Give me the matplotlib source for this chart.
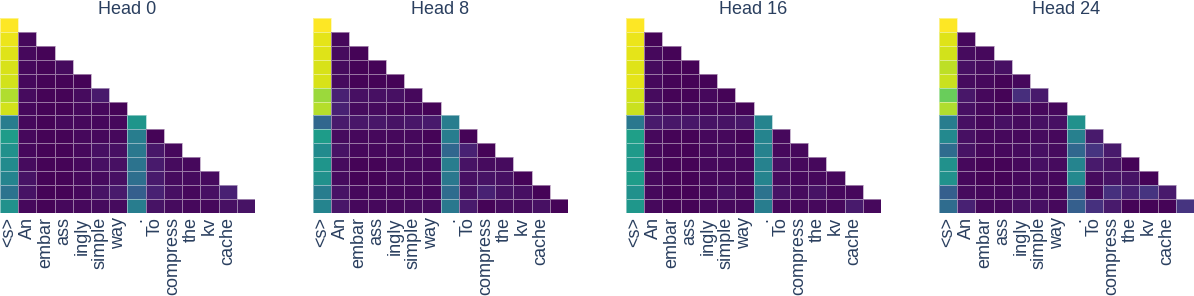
import numpy as np
import matplotlib
matplotlib.use('Agg')
import matplotlib.pyplot as plt

# tokens (last column has no label)
tokens = ['<s>', 'An', 'embar', 'ass', 'ingly', 'simple', 'way', '.',
	'To', 'compress', 'the', 'kv', 'cache', '']

titles = ['Head 0', 'Head 8', 'Head 16', 'Head 24']

# lower triangular attention weights, one row per query token
head0 = [
	[1.00],
	[0.97, 0.02],
	[0.95, 0.02, 0.01],
	[0.94, 0.02, 0.01, 0.03],
	[0.93, 0.02, 0.01, 0.01, 0.01],
	[0.88, 0.03, 0.01, 0.01, 0.03, 0.07],
	[0.93, 0.02, 0.01, 0.01, 0.02, 0.02, 0.01],
	[0.42, 0.02, 0.01, 0.02, 0.02, 0.02, 0.02, 0.52],
	[0.55, 0.02, 0.01, 0.01, 0.02, 0.02, 0.02, 0.42, 0.01],
	[0.50, 0.02, 0.01, 0.01, 0.02, 0.04, 0.04, 0.40, 0.06, 0.02],
	[0.48, 0.03, 0.01, 0.01, 0.02, 0.04, 0.04, 0.38, 0.07, 0.03, 0.02],
	[0.45, 0.05, 0.01, 0.01, 0.02, 0.03, 0.04, 0.36, 0.07, 0.03, 0.03, 0.03],
	[0.38, 0.05, 0.01, 0.01, 0.02, 0.05, 0.07, 0.30, 0.09, 0.04, 0.02, 0.04, 0.09],
	[0.50, 0.02, 0.01, 0.02, 0.02, 0.03, 0.03, 0.42, 0.05, 0.03, 0.02, 0.02, 0.04, 0.05],
]

head8 = [
	[1.00],
	[0.96, 0.02],
	[0.95, 0.03, 0.01],
	[0.94, 0.03, 0.01, 0.01],
	[0.94, 0.03, 0.01, 0.01, 0.01],
	[0.85, 0.09, 0.04, 0.04, 0.04, 0.02],
	[0.89, 0.09, 0.03, 0.03, 0.02, 0.02, 0.01],
	[0.33, 0.07, 0.06, 0.06, 0.05, 0.06, 0.07, 0.42],
	[0.55, 0.03, 0.02, 0.02, 0.02, 0.02, 0.01, 0.42, 0.01],
	[0.48, 0.05, 0.02, 0.02, 0.02, 0.03, 0.02, 0.33, 0.09, 0.01],
	[0.52, 0.03, 0.01, 0.01, 0.02, 0.02, 0.02, 0.42, 0.05, 0.03, 0.03],
	[0.50, 0.03, 0.01, 0.01, 0.02, 0.02, 0.02, 0.40, 0.04, 0.05, 0.04, 0.01],
	[0.42, 0.05, 0.02, 0.02, 0.02, 0.02, 0.02, 0.35, 0.05, 0.09, 0.05, 0.04, 0.01],
	[0.45, 0.06, 0.02, 0.02, 0.02, 0.03, 0.03, 0.40, 0.07, 0.01, 0.03, 0.03, 0.04, 0.01],
]

head16 = [
	[1.00],
	[0.97, 0.01],
	[0.96, 0.02, 0.01],
	[0.95, 0.03, 0.01, 0.01],
	[0.96, 0.02, 0.01, 0.01, 0.01],
	[0.93, 0.03, 0.01, 0.01, 0.02, 0.01],
	[0.92, 0.04, 0.02, 0.02, 0.02, 0.02, 0.01],
	[0.40, 0.07, 0.06, 0.06, 0.05, 0.05, 0.06, 0.45],
	[0.56, 0.02, 0.01, 0.01, 0.02, 0.02, 0.01, 0.45, 0.02],
	[0.54, 0.02, 0.01, 0.01, 0.02, 0.03, 0.02, 0.44, 0.02, 0.02],
	[0.53, 0.02, 0.01, 0.01, 0.02, 0.02, 0.02, 0.44, 0.04, 0.02, 0.02],
	[0.55, 0.02, 0.01, 0.01, 0.02, 0.02, 0.02, 0.45, 0.03, 0.02, 0.02, 0.02],
	[0.50, 0.02, 0.01, 0.01, 0.02, 0.04, 0.02, 0.38, 0.05, 0.03, 0.05, 0.02, 0.02],
	[0.53, 0.02, 0.01, 0.01, 0.02, 0.02, 0.02, 0.42, 0.02, 0.02, 0.02, 0.02, 0.07, 0.02],
]

head24 = [
	[1.00],
	[0.95, 0.02],
	[0.93, 0.03, 0.02],
	[0.90, 0.04, 0.03, 0.04],
	[0.92, 0.03, 0.02, 0.01, 0.02],
	[0.77, 0.06, 0.02, 0.01, 0.13, 0.07],
	[0.88, 0.04, 0.02, 0.01, 0.02, 0.02, 0.02],
	[0.42, 0.04, 0.02, 0.04, 0.03, 0.04, 0.04, 0.50],
	[0.47, 0.04, 0.02, 0.02, 0.02, 0.03, 0.02, 0.43, 0.07],
	[0.35, 0.05, 0.02, 0.02, 0.03, 0.04, 0.03, 0.33, 0.15, 0.07],
	[0.50, 0.02, 0.01, 0.01, 0.02, 0.04, 0.03, 0.45, 0.07, 0.05, 0.01],
	[0.50, 0.02, 0.01, 0.01, 0.02, 0.03, 0.02, 0.47, 0.03, 0.05, 0.05, 0.01],
	[0.30, 0.03, 0.02, 0.02, 0.03, 0.03, 0.02, 0.28, 0.03, 0.14, 0.09, 0.15, 0.07],
	[0.35, 0.09, 0.02, 0.02, 0.04, 0.04, 0.02, 0.30, 0.14, 0.07, 0.01, 0.01, 0.01, 0.15],
]

heads = [head0, head8, head16, head24]

plt.rcParams['font.family'] = ['Liberation Sans', 'DejaVu Sans']
textcol = '#2a3f5f'

W, H = 1194, 296
fig = plt.figure(figsize=(W / 100, H / 100), dpi=100)

lefts = [0, 313, 626, 939]
n = len(tokens)
for k, rows in enumerate(heads):
	mat = np.full((n, n), np.nan)
	for i, r in enumerate(rows):
		mat[i, :len(r)] = r
	mat = np.ma.masked_invalid(mat)
	ax = fig.add_axes([lefts[k] / W, (H - 213) / H, 255 / W, 195 / H])
	ax.pcolormesh(np.arange(n + 1), np.arange(n + 1), mat, cmap='viridis',
		vmin=0, vmax=1, edgecolors=(1, 1, 1, 0.45), linewidth=0.7)
	ax.set_xlim(0, n)
	ax.set_ylim(n, 0)
	ax.set_xticks(np.arange(n) + 0.5)
	ax.set_xticklabels(tokens, rotation=90, fontsize=13, color=textcol)
	ax.set_yticks([])
	ax.tick_params(axis='x', length=0, pad=3)
	for s in ax.spines.values():
		s.set_visible(False)
	ax.set_title(titles[k], fontsize=13, color=textcol, pad=3)

fig.savefig('out.png', dpi=100)
